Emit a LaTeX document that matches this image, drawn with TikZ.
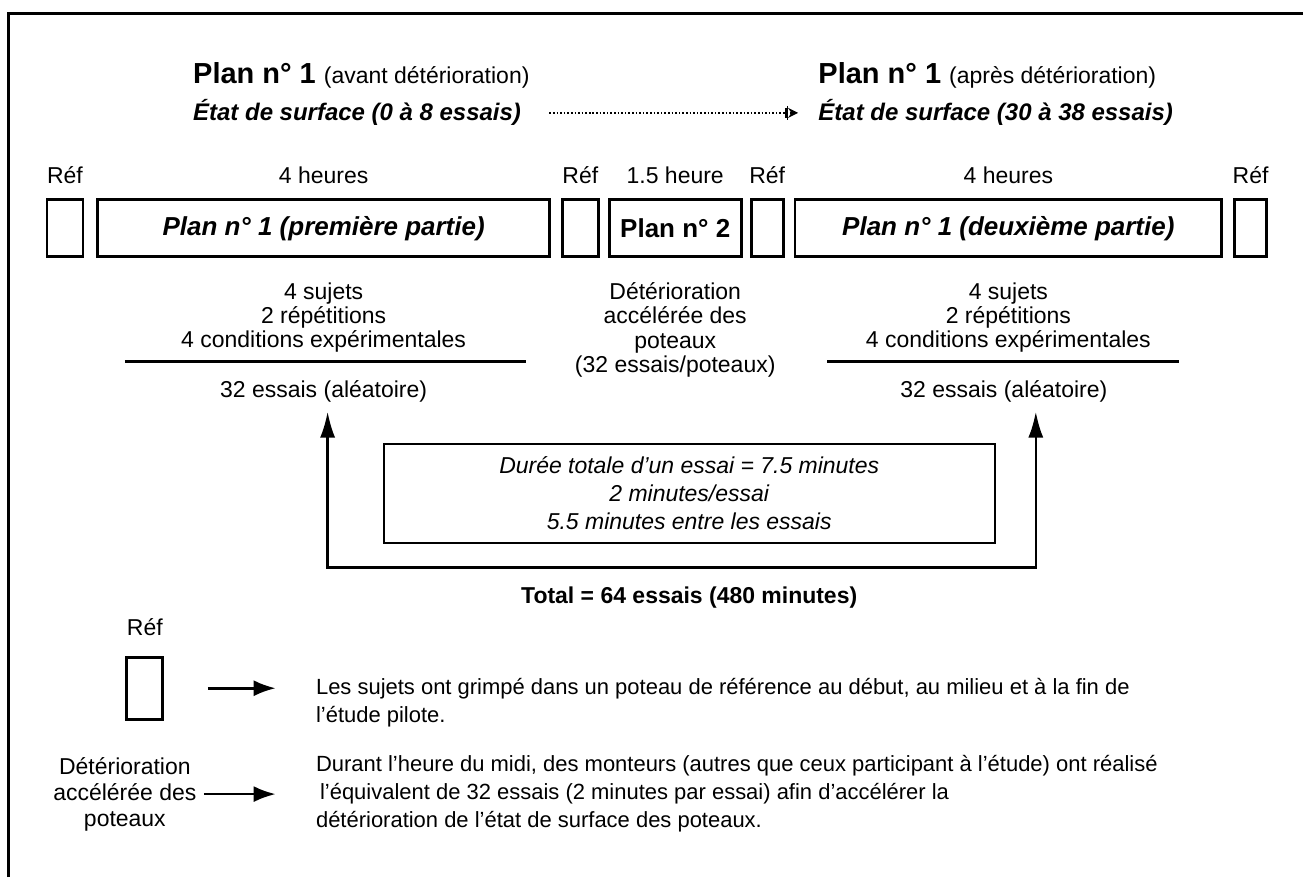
\documentclass[tikz,border=0pt]{standalone}
\usepackage{fontspec}
\setmainfont{Liberation Sans}
\usetikzlibrary{arrows.meta,positioning}
\begin{document}
\begin{tikzpicture}[x=0.5pt,y=-0.5pt,
    txt/.style={inner sep=0pt,font=\fontsize{11.5}{12.2}\selectfont,align=center},
    refbox/.style={draw,line width=1.4pt,minimum width=18pt,minimum height=28.5pt,inner sep=0pt},
    planbox/.style={refbox,minimum width=226pt,font=\fontsize{13}{15}\selectfont\bfseries\itshape},
    rule/.style={line width=1.2pt},
    uparrow/.style={line width=1.3pt,{Latex[length=13pt,width=7.5pt]}-{Latex[length=13pt,width=7.5pt]}},
    legarrow/.style={line width=1.3pt,-{Latex[length=11pt,width=8pt]}}]
    \path[fill=white](0,0)rectangle(1304,878);
    \draw[line width=1.5pt](9,878)--(9,14)--(1304,14);
    % titres
    \node[txt,anchor=west](planA)at(193,75){\fontsize{14.5}{16}\selectfont\bfseries Plan n° 1 \fontsize{11.5}{13}\selectfont\mdseries(avant détérioration)};
    \node[txt,anchor=west](planB)at(819,75){\fontsize{14.5}{16}\selectfont\bfseries Plan n° 1 \fontsize{11.5}{13}\selectfont\mdseries(après détérioration)};
    \node[txt,anchor=west,font=\fontsize{12}{14}\selectfont\bfseries\itshape](etatA)at(193,113){État de surface (0 à 8 essais)};
    \node[txt,anchor=west,font=\fontsize{12}{14}\selectfont\bfseries\itshape](etatB)at(819,113){État de surface (30 à 38 essais)};
    \draw[densely dotted,line width=0.8pt,-{Bar[width=5pt]Bar[width=7pt]Stealth[length=5pt,width=5pt]},shorten <=14pt,shorten >=10pt](etatA)--(etatB);
    % rangee des poteaux
    \node[refbox](refA)at(65,228.5){};
    \node[planbox](partA)at(324,228.5){Plan n° 1 (première partie)};
    \node[refbox](refB)at(581,228.5){};
    \node[refbox,minimum width=66pt,font=\fontsize{13}{15}\selectfont\bfseries](plan2)at(676,228.5){Plan n° 2};
    \node[refbox,minimum width=16pt](refC)at(768,228.5){};
    \node[planbox,minimum width=213.5pt](partB)at(1009.5,228.5){Plan n° 1 (deuxième partie)};
    \node[refbox,minimum width=16pt](refD)at(1252,228.5){};
    \foreach\r in{refA,refB,refC,refD}\node[txt,above=7pt of \r]{Réf};
    \node[txt,above=7pt of partA]{4 heures};
    \node[txt,above=7pt of partB]{4 heures};
    \node[txt,above=7pt of plan2]{1.5 heure};
    % sous les plans
    \node[txt,below=12pt of partA](condA){4 sujets\\2 répétitions\\4 conditions expérimentales};
    \node[txt,below=12pt of partB](condB){4 sujets\\2 répétitions\\4 conditions expérimentales};
    \node[txt,below=12pt of plan2](deter){Détérioration\\accélérée des\\poteaux\\(32 essais/poteaux)};
    \draw[rule](125,362)--(527,362);
    \draw[rule](828,362)--(1180,362);
    \node[txt](essA)at(324,392){32 essais (aléatoire)};
    \node[txt](essB)at(1005,392){32 essais (aléatoire)};
    % duree
    \node[draw,line width=1pt,minimum width=306pt,minimum height=50pt,txt,font=\fontsize{11.5}{14}\selectfont\itshape](duree)at(690,494){Durée totale d'un essai = 7.5 minutes\\2 minutes/essai\\5.5 minutes entre les essais};
    \coordinate(tipL)at(328,412);\coordinate(tipR)at(1037,412);
    \coordinate(botL)at(328,568);\coordinate(botR)at(1037,568);
    \draw[uparrow](tipL)--(botL)--(botR)--(tipR);
    \node[txt,font=\fontsize{11.5}{13}\selectfont\bfseries](total)at(690,598){Total = 64 essais (480 minutes)};
    % legende
    \node[txt](refLt)at(145,628){Réf};
    \node[refbox,minimum height=31pt](refL)at(145,689){};
    \coordinate(a1)at(208,689);\coordinate(a2)at(276,689);
    \draw[legarrow](a1)--(a2);
    \node[txt,anchor=west,align=left,font=\fontsize{11}{14}\selectfont](legA)at(316,703){Les sujets ont grimpé dans un poteau de référence au début, au milieu et à la fin de\\l'étude pilote.};
    \node[txt,font=\fontsize{11.5}{13}\selectfont](detL)at(125,795){Détérioration\\accélérée des\\poteaux};
    \coordinate(b1)at(204,795);\coordinate(b2)at(276,795);
    \draw[legarrow](b1)--(b2);
    \node[txt,anchor=west,align=left,font=\fontsize{11}{14}\selectfont](legB)at(316,795){Durant l'heure du midi, des monteurs (autres que ceux participant à l'étude) ont réalisé\\\hspace{2pt}l'équivalent de 32 essais (2 minutes par essai) afin d'accélérer la\\détérioration de l'état de surface des poteaux.};
\end{tikzpicture}
\end{document}
